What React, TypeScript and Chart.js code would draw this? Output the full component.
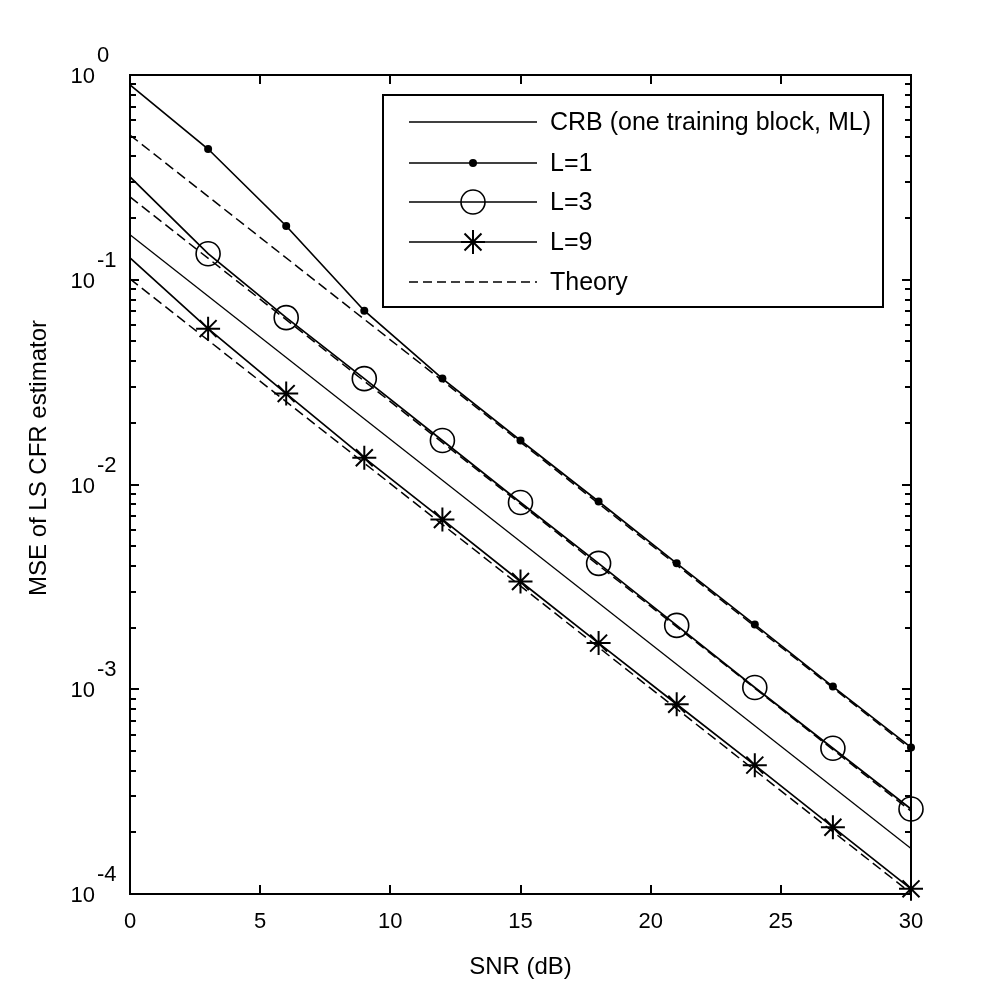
import React, { useEffect, useRef } from "react";
import { Chart, registerables } from "chart.js";

Chart.register(...registerables);

// ---- data ----
const snr = [0, 3, 6, 9, 12, 15, 18, 21, 24, 27, 30];
const mseL1 = [0.894, 0.435, 0.183, 0.0706, 0.0329, 0.0164, 0.00826, 0.00412, 0.00207, 0.00103, 0.00052];
const mseL3 = [0.318, 0.134, 0.0653, 0.0329, 0.0164, 0.00817, 0.00412, 0.00205, 0.00102, 0.000515, 0.00026];
const mseL9 = [0.128, 0.0577, 0.0278, 0.0135, 0.00675, 0.00336, 0.00168, 0.000845, 0.000426, 0.000212, 0.000106];
const lineSnr = [0, 30];
const crb = [0.166, 0.000167];
const theoryL1 = [0.509, 0.000509];
const theoryL3 = [0.254, 0.000254];
const theoryL9 = [0.101, 0.000101];

const xTicks = [0, 5, 10, 15, 20, 25, 30];
const yExponents = [0, -1, -2, -3, -4];

const legendLabels = ["CRB (one training block, ML)", "L=1", "L=3", "L=9", "Theory"];
const xTitle = "SNR (dB)";
const yTitle = "MSE of LS CFR estimator";

const TICK_FONT = "22px 'Liberation Sans', Arial, sans-serif";
const TEXT_FONT = "25px 'Liberation Sans', Arial, sans-serif";
const TITLE_FONT = "24px 'Liberation Sans', Arial, sans-serif";

const pts = (xs: number[], ys: number[]) => xs.map((x, i) => ({ x, y: ys[i] }));

function drawStar(ctx: CanvasRenderingContext2D, x: number, y: number, r: number) {
  ctx.beginPath();
  ctx.moveTo(x - r, y);
  ctx.lineTo(x + r, y);
  ctx.moveTo(x, y - r);
  ctx.lineTo(x, y + r);
  const d = r * Math.SQRT1_2;
  ctx.moveTo(x - d, y - d);
  ctx.lineTo(x + d, y + d);
  ctx.moveTo(x - d, y + d);
  ctx.lineTo(x + d, y - d);
  ctx.stroke();
}

const framePlugin = {
  id: "frame",
  afterDraw(chart: any) {
    const ctx: CanvasRenderingContext2D = chart.ctx;
    const { left, right, top, bottom } = chart.chartArea;
    const xs = chart.scales.x;
    const ys = chart.scales.y;
    ctx.save();
    ctx.strokeStyle = "#000";
    ctx.fillStyle = "#000";

    // ticks
    ctx.lineWidth = 2;
    ctx.beginPath();
    for (const t of xTicks) {
      const px = Math.round(xs.getPixelForValue(t));
      ctx.moveTo(px, bottom);
      ctx.lineTo(px, bottom - 9);
      ctx.moveTo(px, top);
      ctx.lineTo(px, top + 9);
    }
    for (let e = -4; e <= 0; e++) {
      const py = Math.round(ys.getPixelForValue(Math.pow(10, e)));
      ctx.moveTo(left, py);
      ctx.lineTo(left + 9, py);
      ctx.moveTo(right, py);
      ctx.lineTo(right - 9, py);
      if (e < 0) {
        for (let m = 2; m <= 9; m++) {
          const pm = Math.round(ys.getPixelForValue(m * Math.pow(10, e)));
          ctx.moveTo(left, pm);
          ctx.lineTo(left + 6, pm);
          ctx.moveTo(right, pm);
          ctx.lineTo(right - 6, pm);
        }
      }
    }
    ctx.stroke();

    // frame
    ctx.lineWidth = 2;
    ctx.strokeRect(left, top, right - left, bottom - top);

    // x tick labels
    ctx.font = TICK_FONT;
    ctx.textAlign = "center";
    ctx.textBaseline = "alphabetic";
    for (const t of xTicks) {
      ctx.fillText(String(t), xs.getPixelForValue(t), bottom + 34);
    }
    // y tick labels with superscript
    for (const e of yExponents) {
      const py = ys.getPixelForValue(Math.pow(10, e));
      ctx.textAlign = "right";
      ctx.fillText("10", left - 35, py + 8);
      ctx.textAlign = "left";
      ctx.fillText(String(e), left - 33, py - 13);
    }
    // axis titles
    ctx.font = TITLE_FONT;
    ctx.textAlign = "center";
    ctx.fillText(xTitle, (left + right) / 2, bottom + 80);
    ctx.save();
    ctx.translate(46, 458);
    ctx.rotate(-Math.PI / 2);
    ctx.fillText(yTitle, 0, 0);
    ctx.restore();

    // legend
    const lx = 383, ly = 95, lw = 500, lh = 212;
    ctx.fillStyle = "#fff";
    ctx.fillRect(lx, ly, lw, lh);
    ctx.fillStyle = "#000";
    ctx.lineWidth = 2;
    ctx.strokeRect(lx, ly, lw, lh);
    const rowY = [122, 163, 202, 242, 282];
    const x0 = 409, x1 = 537, xm = 473;
    ctx.font = TEXT_FONT;
    legendLabels.forEach((lab, i) => {
      const y = rowY[i];
      ctx.lineWidth = i === 0 ? 1.3 : 1.7;
      ctx.setLineDash(i === 4 ? [9, 5] : []);
      ctx.beginPath();
      ctx.moveTo(x0, y);
      ctx.lineTo(x1, y);
      ctx.stroke();
      ctx.setLineDash([]);
      if (i === 1) {
        ctx.beginPath();
        ctx.arc(xm, y, 4, 0, Math.PI * 2);
        ctx.fill();
      } else if (i === 2) {
        ctx.lineWidth = 1.6;
        ctx.beginPath();
        ctx.arc(xm, y, 12, 0, Math.PI * 2);
        ctx.stroke();
      } else if (i === 3) {
        ctx.lineWidth = 2;
        drawStar(ctx, xm, y, 12);
      }
      ctx.textAlign = "left";
      ctx.textBaseline = "middle";
      ctx.fillText(lab, 550, y + 1);
      ctx.textBaseline = "alphabetic";
    });
    ctx.restore();
  },
};

const hideFirst = (r: number) => (c: any) => (c.dataIndex === 0 ? 0 : r);

export default function App() {
  const ref = useRef<HTMLCanvasElement | null>(null);
  useEffect(() => {
    document.body.style.margin = "0";
    document.body.style.overflow = "hidden";
    const canvas = ref.current!;
    const chart = new Chart(canvas, {
      type: "line",
      data: {
        datasets: [
          {
            label: "CRB (one training block, ML)",
            data: pts(lineSnr, crb),
            borderColor: "#000",
            borderWidth: 1.3,
            pointRadius: 0,
          },
          {
            label: "L=1",
            data: pts(snr, mseL1),
            borderColor: "#000",
            backgroundColor: "#000",
            borderWidth: 1.7,
            pointStyle: "circle",
            pointRadius: hideFirst(4),
            pointBorderWidth: 0,
            pointBackgroundColor: "#000",
          },
          {
            label: "L=3",
            data: pts(snr, mseL3),
            borderColor: "#000",
            borderWidth: 1.7,
            pointStyle: "circle",
            pointRadius: hideFirst(12),
            pointBorderWidth: 1.6,
            pointBorderColor: "#000",
            pointBackgroundColor: "rgba(0,0,0,0)",
          },
          {
            label: "L=9",
            data: pts(snr, mseL9),
            borderColor: "#000",
            borderWidth: 1.7,
            pointStyle: "star",
            pointRadius: hideFirst(12),
            pointBorderWidth: 2,
            pointBorderColor: "#000",
          },
          {
            label: "Theory L=1",
            data: pts(lineSnr, theoryL1),
            borderColor: "#000",
            borderWidth: 1.5,
            borderDash: [10, 5],
            pointRadius: 0,
          },
          {
            label: "Theory L=3",
            data: pts(lineSnr, theoryL3),
            borderColor: "#000",
            borderWidth: 1.5,
            borderDash: [10, 5],
            pointRadius: 0,
          },
          {
            label: "Theory L=9",
            data: pts(lineSnr, theoryL9),
            borderColor: "#000",
            borderWidth: 1.5,
            borderDash: [10, 5],
            pointRadius: 0,
          },
        ] as any,
      },
      options: {
        animation: false,
        responsive: false,
        devicePixelRatio: 1,
        layout: { padding: { left: 130, right: 96, top: 75, bottom: 112 } },
        datasets: { line: { clip: false as any, tension: 0 } } as any,
        scales: {
          x: { type: "linear", min: 0, max: 30, display: false },
          y: { type: "logarithmic", min: 1e-4, max: 1, display: false },
        },
        plugins: { legend: { display: false }, tooltip: { enabled: false } },
        events: [],
      },
      plugins: [framePlugin],
    });
    return () => chart.destroy();
  }, []);
  return (
    <div style={{ position: "fixed", left: 0, top: 0, width: 1007, height: 1006, background: "#fff" }}>
      <canvas ref={ref} width={1007} height={1006} style={{ display: "block" }} />
    </div>
  );
}
